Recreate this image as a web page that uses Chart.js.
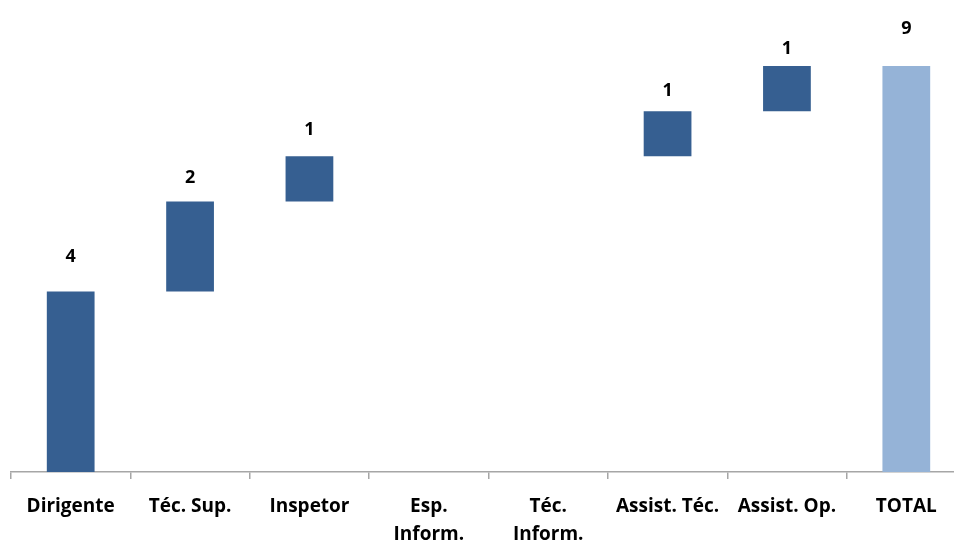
<!DOCTYPE html>
<html>
<head>
<meta charset="utf-8">
<script src="https://cdn.jsdelivr.net/npm/chart.js@4"></script>
<style>
  html, body { margin: 0; padding: 0; background: #fff; overflow: hidden; width: 954px; height: 543px; }
  #wrap { width: 954px; height: 543px; overflow: hidden; }
</style>
</head>
<body>
<div id="wrap"><canvas id="chart" width="966" height="543"></canvas></div>
<script>
const categories = [['Dirigente'], ['Téc. Sup.'], ['Inspetor'], ['Esp.', 'Inform.'], ['Téc.', 'Inform.'], ['Assist. Téc.'], ['Assist. Op.'], ['TOTAL']];
const steps = [4, 2, 1, 0, 0, 1, 1];
const total = 9;

// floating bars: each step starts where the previous one ended
const ranges = [];
let run = 0;
steps.forEach(v => { ranges.push(v ? [run, run + v] : null); run += v; });
ranges.push([0, total]);
const labelValues = steps.concat([total]);

const DARK = '#365F91', LIGHT = '#95B3D7';
const colors = labelValues.map((v, i) => i === labelValues.length - 1 ? LIGHT : DARK);
// gap between bar top and its value label
const labelGap = [35, 24, 26, 0, 0, 20, 17, 37];

const FONT = '"Open Sans", sans-serif';

const valueLabels = {
  id: 'valueLabels',
  afterDatasetsDraw(chart) {
    const ctx = chart.ctx;
    const meta = chart.getDatasetMeta(0);
    ctx.save();
    ctx.font = 'bold 18px ' + FONT;
    ctx.fillStyle = '#000';
    ctx.textAlign = 'center';
    ctx.textBaseline = 'middle';
    meta.data.forEach((bar, i) => {
      if (!labelValues[i]) return;
      const top = Math.min(bar.y, bar.base);
      ctx.fillText(String(labelValues[i]), bar.x, top - labelGap[i]);
    });
    ctx.restore();
  }
};

new Chart(document.getElementById('chart'), {
  type: 'bar',
  data: {
    labels: categories,
    datasets: [{ data: ranges, backgroundColor: colors, borderWidth: 0 }]
  },
  options: {
    responsive: false,
    animation: false,
    layout: { padding: { left: 11, top: 21, right: 0, bottom: 0 } },
    plugins: { legend: { display: false }, tooltip: { enabled: false } },
    datasets: { bar: { categoryPercentage: 1, barPercentage: 0.4 } },
    scales: {
      x: {
        offset: true,
        grid: { offset: true, drawOnChartArea: false, tickLength: 7, color: '#A6A6A6', lineWidth: 1.5 },
        border: { display: true, color: '#A6A6A6', width: 1.5 },
        ticks: { color: '#000', font: { family: FONT, size: 19, weight: 'bold', lineHeight: 1.5 }, padding: 13, maxRotation: 0, autoSkip: false },
        afterFit: s => { s.height = 71; }
      },
      y: { display: false, min: 0, max: 10 }
    }
  },
  plugins: [valueLabels]
});
</script>
</body>
</html>
